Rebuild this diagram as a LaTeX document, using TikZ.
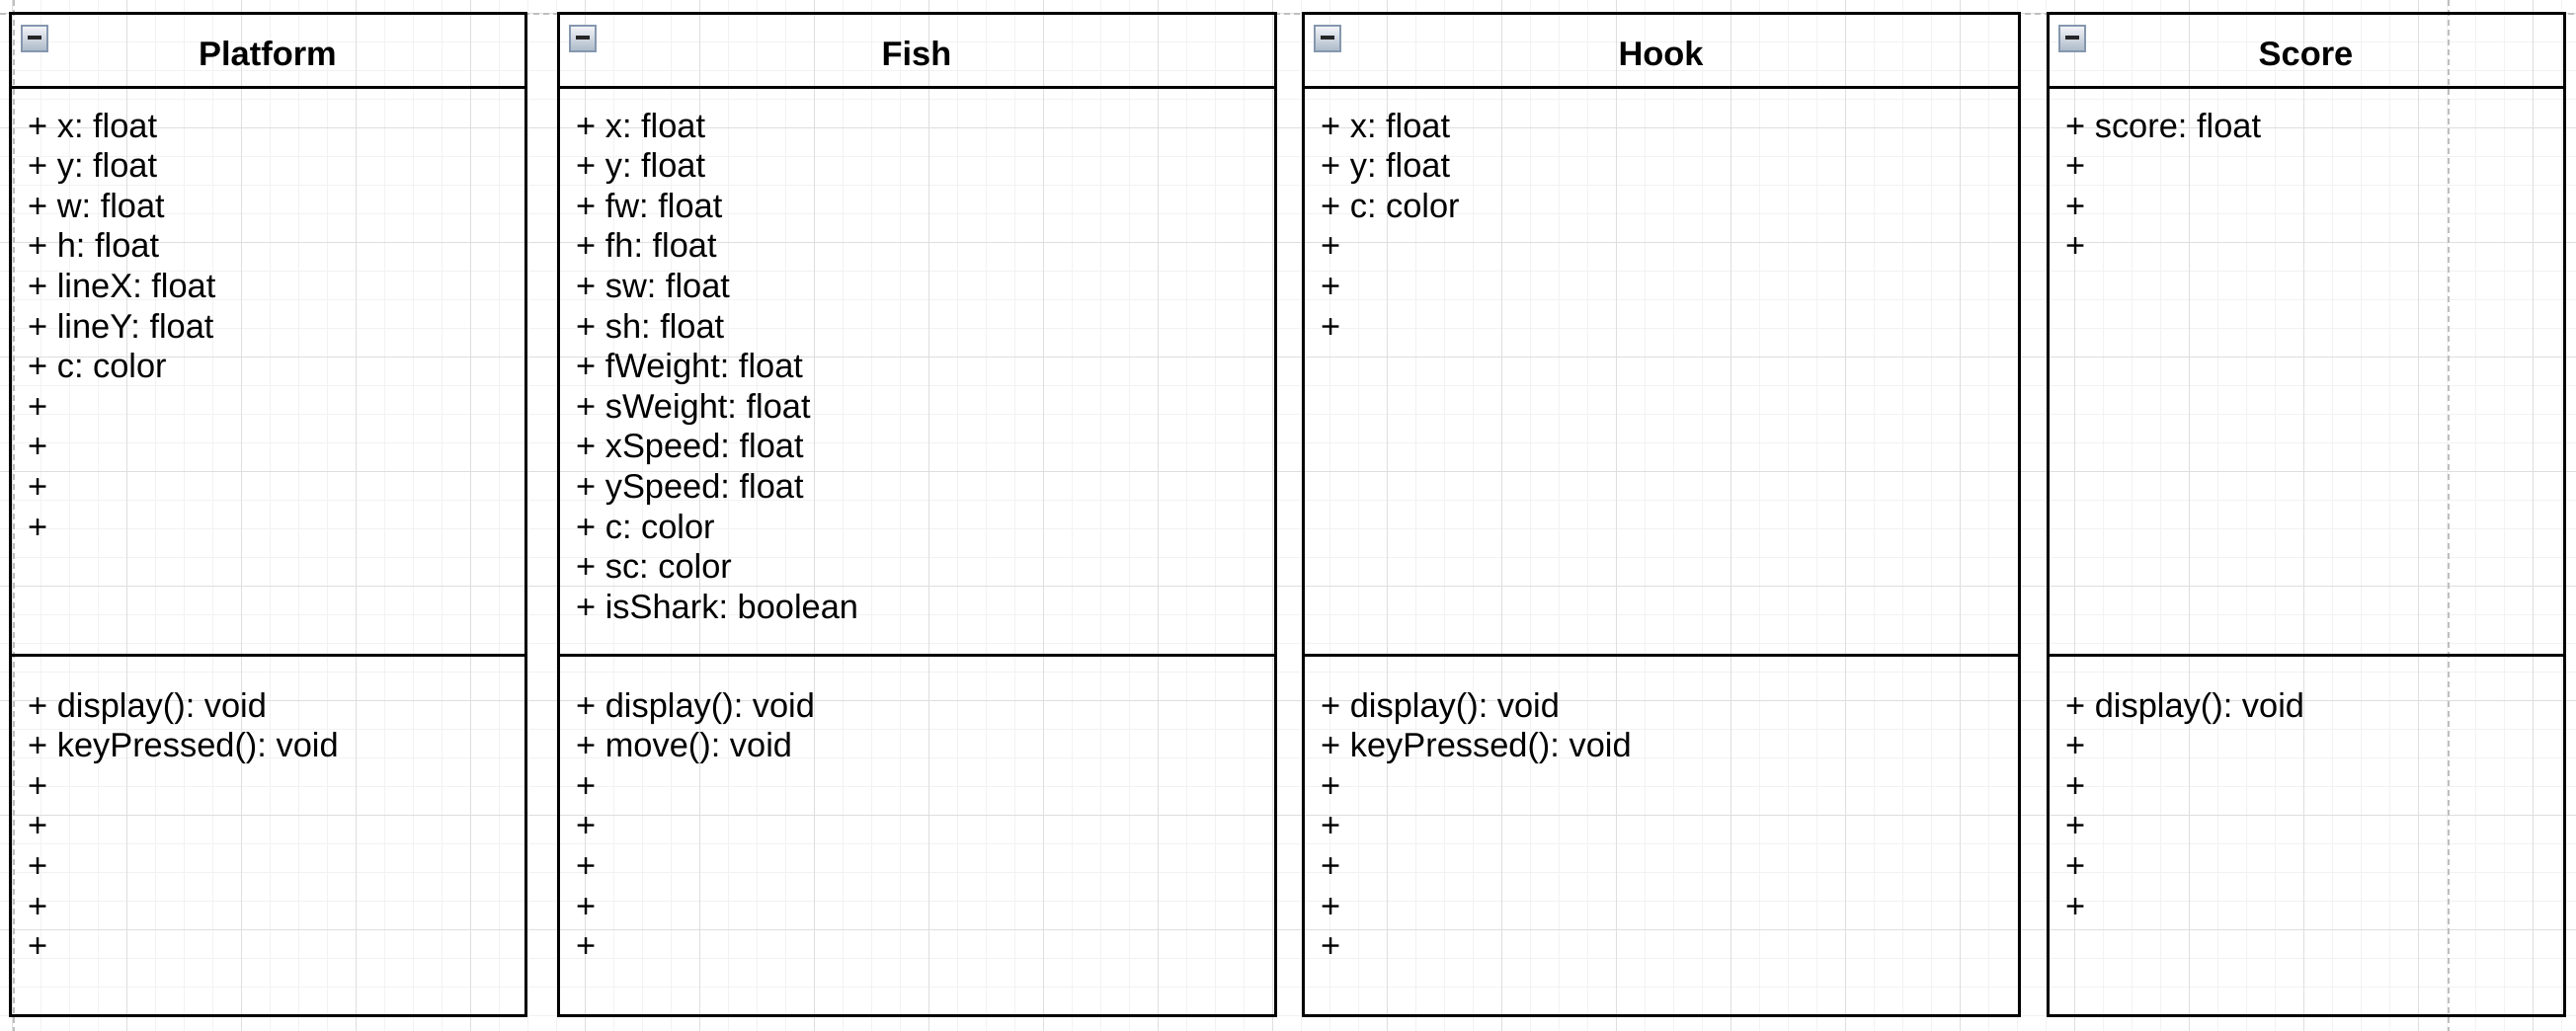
\documentclass[tikz,border=0pt]{standalone}
\usepackage{fontspec}
\setmainfont{Liberation Sans}
\usetikzlibrary{shadings}
\definecolor{gridminor}{HTML}{F2F2F2}
\definecolor{gridmajor}{HTML}{DEDEDE}
\definecolor{pagedash}{HTML}{BFBFBF}
\definecolor{iconborder}{HTML}{8597AE}
\definecolor{icontop}{HTML}{F3F5F8}
\definecolor{iconbottom}{HTML}{ABB8C8}
\definecolor{iconminus}{HTML}{262626}
\tikzset{
  classbox/.style={draw=black, line width=3pt, inner sep=0pt, minimum height=1015pt},
  classline/.style={draw=black, line width=3pt},
  titletext/.style={font=\fontsize{34.4}{40}\selectfont\bfseries, inner sep=0pt, anchor=base},
  membertext/.style={font=\fontsize{34.4}{40}\selectfont, inner sep=0pt, anchor=base west},
  collapse/.style={draw=iconborder, line width=1.5pt, top color=icontop, bottom color=iconbottom,
    minimum size=26pt, inner sep=0pt,
    path picture={\draw[iconminus, line width=3.5pt]
      ([xshift=6pt,yshift=1pt]path picture bounding box.west) -- ([xshift=-6pt,yshift=1pt]path picture bounding box.east);}},
  gridminorline/.style={draw=gridminor, line width=1pt},
  gridmajorline/.style={draw=gridmajor, line width=1pt},
  pageline/.style={draw=pagedash, line width=1.5pt, dash pattern=on 6pt off 4pt},
}
\newcommand\umlclass[6]{%
  \node[classbox, minimum width={(#3-#2)*1pt}] (#1) at ({(#2+#3)/2}, 520.5) {};
  \draw[classline] (#2,88) -- (#3,88);
  \draw[classline] (#2,663) -- (#3,663);
  \node[collapse] (#1-icon) at ({#2+25}, 39) {};
  \node[titletext] (#1-title) at ({(#2+#3)/2}, 66) {#4};
  \foreach \t [count=\k] in {#5} {\node[membertext] (#1-a\k) at ({#2+18}, {139+40.6*(\k-1)}) {\t};}
  \foreach \t [count=\k] in {#6} {\node[membertext] (#1-m\k) at ({#2+18}, {726+40.6*(\k-1)}) {\t};}
}
\frenchspacing
\begin{document}
\begin{tikzpicture}[x=1pt, y=-1pt]
\useasboundingbox (0,0) rectangle (2608,1044);
\fill[white] (0,0) rectangle (2608,1044);
% grid
\foreach \i in {0,...,89} {\draw[gridminorline] ({12+29*\i},0) -- ++(0,1044);}
\foreach \j in {0,...,35} {\draw[gridminorline] (0,{13+29*\j}) -- ++(2608,0);}
\foreach \i in {0,...,22} {\draw[gridmajorline] ({12+116*\i},0) -- ++(0,1044);}
\foreach \j in {0,...,8} {\draw[gridmajorline] (0,{13+116*\j}) -- ++(2608,0);}
% page break lines
\draw[pageline] (0,14) -- (2608,14);
\draw[pageline] (14,0) -- (14,1044);
\draw[pageline] (2479,0) -- (2479,1044);
% classes
\umlclass{platform}{10}{532}{Platform}
  {+ x: float, + y: float, + w: float, + h: float, + lineX: float, + lineY: float, + c: color, +, +, +, +}
  {+ display(): void, + keyPressed(): void, +, +, +, +, +}
\umlclass{fish}{565}{1291}{Fish}
  {+ x: float, + y: float, + fw: float, + fh: float, + sw: float, + sh: float, + fWeight: float, + sWeight: float, + xSpeed: float, + ySpeed: float, + c: color, + sc: color, + isShark: boolean}
  {+ display(): void, + move(): void, +, +, +, +, +}
\umlclass{hook}{1319}{2044}{Hook}
  {+ x: float, + y: float, + c: color, +, +, +}
  {+ display(): void, + keyPressed(): void, +, +, +, +, +}
\umlclass{score}{2073}{2596}{Score}
  {+ score: float, +, +, +}
  {+ display(): void, +, +, +, +, +}
\end{tikzpicture}
\end{document}
